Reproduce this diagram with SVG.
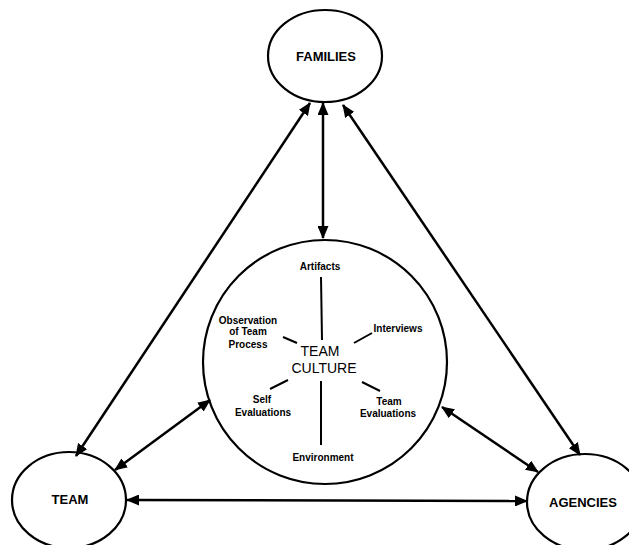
<svg xmlns="http://www.w3.org/2000/svg" width="629" height="545" viewBox="0 0 629 545">
<style>
.node{fill:#fff;stroke:#000;stroke-width:2.2}
.big{font-family:"Liberation Sans",Arial,sans-serif;font-weight:bold;font-size:13px;text-anchor:middle;fill:#000}
.mid{font-family:"Liberation Sans",Arial,sans-serif;font-size:14px;text-anchor:middle;fill:#000}
.sm{font-family:"Liberation Sans",Arial,sans-serif;font-weight:bold;font-size:10px;text-anchor:middle;fill:#000}
.conn{stroke:#000;stroke-width:2.5;fill:none}
.spoke{stroke:#000;stroke-width:2;fill:none}
</style>
<defs>
<marker id="ah" viewBox="0 0 13 11" markerWidth="13" markerHeight="11" refX="12" refY="5.5" orient="auto-start-reverse" markerUnits="userSpaceOnUse">
<path d="M0,0 L13,5.5 L0,11 z" fill="#000"/>
</marker>
</defs>
<rect width="629" height="545" fill="#fff"/>
<g id="families">
<ellipse class="node" cx="325" cy="56" rx="57" ry="46"/>
<text class="big" x="326" y="61">FAMILIES</text>
</g>
<g id="team">
<ellipse class="node" cx="69" cy="500" rx="57" ry="48"/>
<text class="big" x="70" y="504">TEAM</text>
</g>
<g id="agencies">
<ellipse class="node" cx="585" cy="502" rx="58" ry="48"/>
<text class="big" x="583" y="507">AGENCIES</text>
</g>
<g id="team-culture">
<circle class="node" cx="325" cy="362" r="122"/>
<text class="mid" x="320" y="356">TEAM</text>
<text class="mid" x="324" y="373">CULTURE</text>
<g id="spokes">
<line class="spoke" x1="321" y1="277" x2="322" y2="340"/>
<line class="spoke" x1="354" y1="343" x2="372" y2="333"/>
<line class="spoke" x1="283" y1="337" x2="297" y2="343"/>
<line class="spoke" x1="270" y1="389" x2="288" y2="380"/>
<line class="spoke" x1="321" y1="381" x2="321" y2="445"/>
<line class="spoke" x1="362" y1="382" x2="380" y2="391"/>
</g>
<text class="sm" x="320" y="270">Artifacts</text>
<text class="sm" x="398" y="332">Interviews</text>
<text class="sm" x="248" y="324">Observation</text>
<text class="sm" x="248" y="335">of Team</text>
<text class="sm" x="248" y="348">Process</text>
<text class="sm" x="262" y="403">Self</text>
<text class="sm" x="263" y="416">Evaluations</text>
<text class="sm" x="389" y="405">Team</text>
<text class="sm" x="388" y="417">Evaluations</text>
<text class="sm" x="323" y="461">Environment</text>
</g>
<g id="connectors">
<line class="conn" x1="323" y1="103" x2="323" y2="238" marker-start="url(#ah)" marker-end="url(#ah)"/>
<line class="conn" x1="310" y1="103" x2="76" y2="456" marker-start="url(#ah)" marker-end="url(#ah)"/>
<line class="conn" x1="343" y1="105" x2="580" y2="455" marker-start="url(#ah)" marker-end="url(#ah)"/>
<line class="conn" x1="210" y1="400" x2="115" y2="470" marker-start="url(#ah)" marker-end="url(#ah)"/>
<line class="conn" x1="442" y1="407" x2="538" y2="472" marker-start="url(#ah)" marker-end="url(#ah)"/>
<line class="conn" x1="127" y1="500" x2="527" y2="501" marker-start="url(#ah)" marker-end="url(#ah)"/>
</g>
</svg>
